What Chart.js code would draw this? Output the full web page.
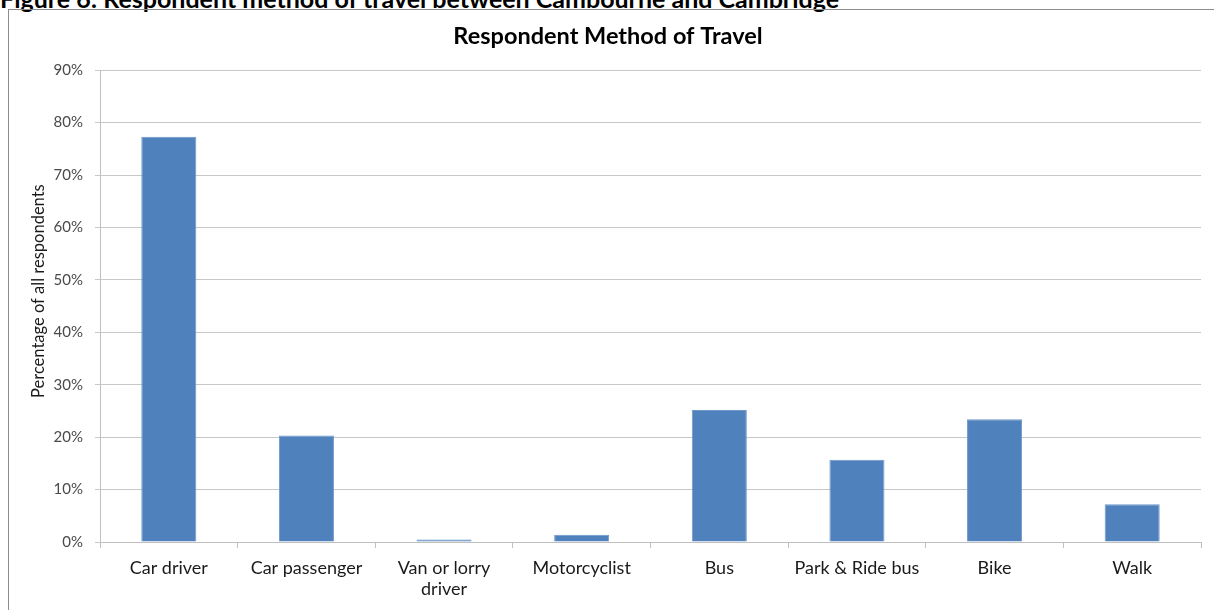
<!DOCTYPE html>
<html>
<head>
<meta charset="utf-8">
<script src="https://cdn.jsdelivr.net/npm/chart.js@4/dist/chart.umd.min.js"></script>
<style>
  html, body { margin: 0; padding: 0; background: #fff; overflow: hidden; }
  #wrap { position: relative; width: 1214px; height: 610px; }
  #caption {
    position: absolute; left: 0px; top: -17px; line-height: 24px;
    font: bold 25px Lato, "Liberation Sans", sans-serif; color: #000;
    white-space: nowrap;
  }
  #frame {
    position: absolute; left: 8px; top: 9px; width: 1220px; height: 620px;
    border-left: 1px solid #8c8c8c; border-top: 1px solid #8c8c8c;
    box-sizing: border-box;
  }
  canvas { position: absolute; left: 0; top: 0; }
</style>
</head>
<body>
<div id="wrap">
  <div id="caption">Figure 6: Respondent method of travel between Cambourne and Cambridge</div>
  <div id="frame"></div>
  <canvas id="c" width="1214" height="610"></canvas>
</div>
<script>
// Travel modes and the share of respondents using each (%)
const categories = ['Car driver', 'Car passenger', ['Van or lorry', 'driver'], 'Motorcyclist',
                    'Bus', 'Park & Ride bus', 'Bike', 'Walk'];
const shares = [77.3, 20.3, 0.5, 1.4, 25.2, 15.7, 23.4, 7.2];
const yTicks = [0, 10, 20, 30, 40, 50, 60, 70, 80, 90];
const yAxisTitle = 'Percentage of all respondents';

const FONT = 'Lato, "Liberation Sans", sans-serif';

// Vertical axis caption, drawn beside the tick labels and a little above the plot's middle
const yTitlePlugin = {
  id: 'yTitle',
  afterDraw(chart) {
    const { ctx, chartArea } = chart;
    const cy = (chartArea.top + chartArea.bottom) / 2 - 15;
    ctx.save();
    ctx.translate(39, cy);
    ctx.rotate(-Math.PI / 2);
    ctx.font = '16.5px ' + FONT;
    ctx.fillStyle = '#1a1a1a';
    ctx.textAlign = 'center';
    ctx.textBaseline = 'middle';
    ctx.fillText(yAxisTitle, 0, 0);
    ctx.restore();
  }
};

new Chart(document.getElementById('c'), {
  type: 'bar',
  data: {
    labels: categories,
    datasets: [{
      data: shares,
      backgroundColor: '#4f81bd',
      borderColor: '#6f97c9',
      borderWidth: 1,
      barPercentage: 0.4,
      categoryPercentage: 1.0
    }]
  },
  plugins: [yTitlePlugin],
  options: {
    responsive: false,
    animation: false,
    layout: { padding: { left: 15, right: 13, top: 0, bottom: 0 } },
    plugins: {
      legend: { display: false },
      tooltip: { enabled: false },
      title: {
        display: true,
        text: 'Respondent Method of Travel',
        color: '#000',
        font: { family: FONT, size: 23.5, weight: 'bold' },
        padding: { top: 22, bottom: 20 }
      }
    },
    scales: {
      x: {
        grid: { drawOnChartArea: false, drawTicks: true, tickLength: 6, offset: true, color: '#bfbfbf' },
        border: { color: '#bfbfbf' },
        ticks: { color: '#1a1a1a', font: { family: FONT, size: 18 }, padding: 9, maxRotation: 0 },
        afterFit: s => { s.height = 68; }
      },
      y: {
        min: 0, max: 90,
        afterBuildTicks: s => { s.ticks = yTicks.map(v => ({ value: v })); },
        grid: { color: '#c8c8c8', tickLength: 5 },
        border: { color: '#bfbfbf' },
        ticks: {
          color: '#4a4a4a', font: { family: FONT, size: 15 }, padding: 12,
          callback: v => v + '%'
        },
        afterFit: s => { s.width = 85; }
      }
    }
  }
});
</script>
</body>
</html>
